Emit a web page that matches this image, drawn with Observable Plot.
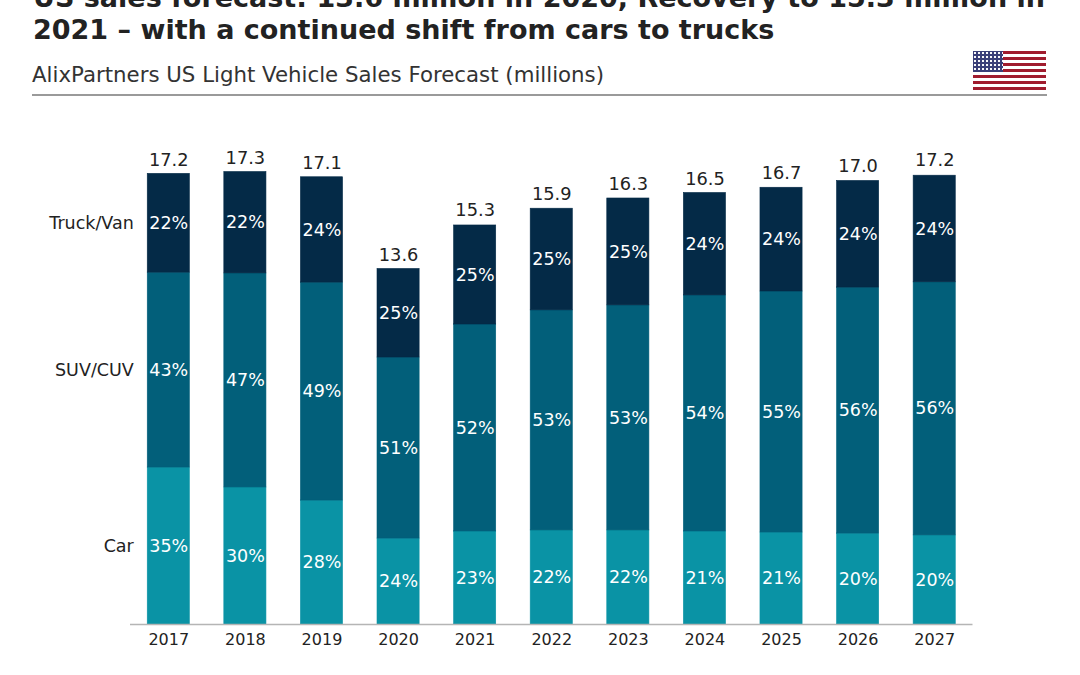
<!DOCTYPE html>
<html><head><meta charset="utf-8">
<script src="https://cdn.jsdelivr.net/npm/d3@7"></script>
<script src="https://cdn.jsdelivr.net/npm/@observablehq/plot@0.6"></script>
<style>
html,body{margin:0;background:#fff;overflow:hidden}
#head{position:relative;height:100px;overflow:hidden;font-family:"DejaVu Sans",sans-serif;color:#222}
#title{position:absolute;left:33px;top:-18px;width:1040px;font-weight:700;font-size:27px;line-height:32px;white-space:nowrap}
#sub{position:absolute;left:32px;top:62px;font-size:21.3px;line-height:25px;color:#333}
#rule{position:absolute;left:32px;top:94px;width:1015px;height:1.5px;background:#9a9a9a}
#flag{position:absolute;left:973px;top:51px;width:73px;height:39px;background:repeating-linear-gradient(180deg,#a01c2e 0 3px,#fff 3px 6px)}
#canton{position:absolute;left:0;top:0;width:30px;height:21px;background-color:#3a3f78;background-image:radial-gradient(#fff 0.7px,transparent 0.9px);background-size:4px 4px}
</style></head><body>
<div id="head">
<div id="title">US sales forecast: 13.6 million in 2020, Recovery to 15.3 million in<br>2021 – with a continued shift from cars to trucks</div>
<div id="sub">AlixPartners US Light Vehicle Sales Forecast (millions)</div>
<div id="flag"><div id="canton"></div></div>
<div id="rule"></div>
</div>
<div id="chart"></div>
<script>
const years=[2017,2018,2019,2020,2021,2022,2023,2024,2025,2026,2027];
const totals=[17.2,17.3,17.1,13.6,15.3,15.9,16.3,16.5,16.7,17.0,17.2];
const carValues=[5.99,5.23,4.73,3.28,3.55,3.59,3.59,3.55,3.51,3.47,3.40];
const suvValues=[7.44,8.17,8.32,6.91,7.90,8.40,8.59,9.01,9.20,9.39,9.66];
const truckValues=[3.77,3.87,4.02,3.38,3.78,3.88,4.08,3.91,3.96,4.07,4.07];
const carPct=[35,30,28,24,23,22,22,21,21,20,20];
const suvPct=[43,47,49,51,52,53,53,54,55,56,56];
const truckPct=[22,22,24,25,25,25,25,24,24,24,24];
const segments=["Car","SUV/CUV","Truck/Van"];
const colors=["#0a93a5","#025f7a","#042a47"];

const rows=[];
years.forEach((year,i)=>{
  rows.push({year,segment:"Car",value:carValues[i],pct:carPct[i]});
  rows.push({year,segment:"SUV/CUV",value:suvValues[i],pct:suvPct[i]});
  rows.push({year,segment:"Truck/Van",value:truckValues[i],pct:truckPct[i]});
});
const totalRows=years.map((year,i)=>({year,total:totals[i]}));
const stackOpts={x:"year",y:"value",z:"segment",order:segments};

const chart=Plot.plot({
  width:1080,height:575,
  marginLeft:130,marginRight:107.5,marginTop:0,marginBottom:51,
  style:{fontFamily:'"DejaVu Sans",sans-serif',background:"transparent",overflow:"visible"},
  x:{type:"band",domain:years,round:false,paddingInner:0.45,paddingOuter:0.225,label:null},
  y:{domain:[0,20],range:[524,0],axis:null},
  color:{domain:segments,range:colors},
  marks:[
    Plot.barY(rows,Plot.stackY({...stackOpts,fill:"segment",stroke:"segment",strokeWidth:0.6})),
    Plot.ruleY([0],{stroke:"#b5b5b5",strokeWidth:1.5}),
    Plot.axisX({anchor:"bottom",tickSize:0,tickPadding:9,label:null,fontSize:16,color:"#222",tickFormat:d=>String(d)}),
    Plot.text(rows,Plot.stackY({...stackOpts,text:d=>d.pct+"%",fill:"white",fontSize:17.5})),
    Plot.text(totalRows,{x:"year",y:"total",text:d=>d.total.toFixed(1),lineAnchor:"bottom",dy:-7.5,fontSize:17.8,fill:"#222"}),
    Plot.text(rows.filter(d=>d.year===years[0]),Plot.stackY({...stackOpts,text:"segment",textAnchor:"end",dx:-35,fontSize:17.5,fill:"#222"}))
  ]
});
document.getElementById("chart").appendChild(chart);
</script>
</body></html>
